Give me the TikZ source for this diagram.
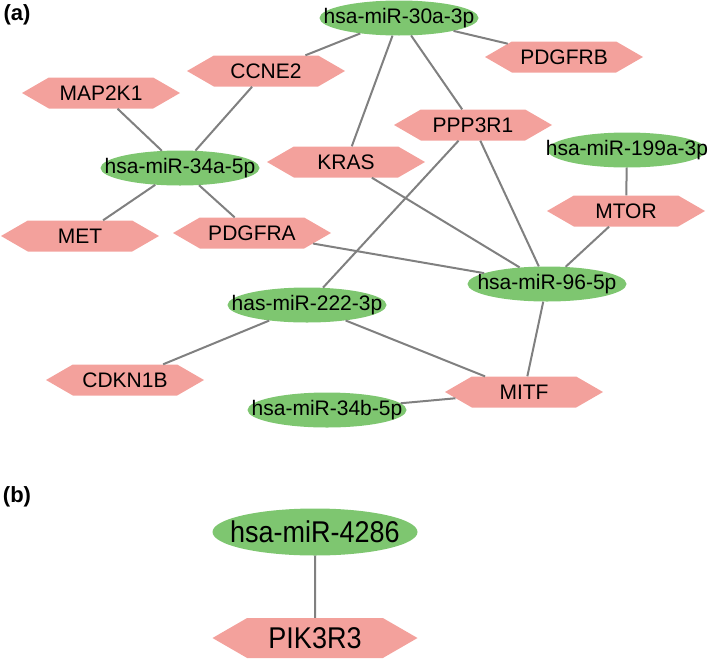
\documentclass[tikz,border=0pt]{standalone}
\usepackage{fontspec}
\setmainfont{Liberation Sans}
\usetikzlibrary{shapes.geometric,shapes.symbols}
\definecolor{mirgreen}{RGB}{126,198,112}
\definecolor{genepink}{RGB}{243,161,156}
\definecolor{edgegray}{RGB}{128,128,128}

\begin{document}
\begin{tikzpicture}[x=1pt,y=-1pt,
  mir/.style={ellipse,fill=mirgreen,inner sep=0pt,minimum width=159pt,minimum height=35pt,font=\fontsize{21}{24}\selectfont},
  gene/.style={signal,signal to=west and east,signal pointer angle=60,fill=genepink,inner sep=0pt,minimum width=158pt,minimum height=31pt,font=\fontsize{21}{24}\selectfont},
  big/.style={font=\fontsize{30}{34}\selectfont,minimum width=205pt},
  panel/.style={font=\bfseries\fontsize{22}{26}\selectfont},
  link/.style={draw=edgegray,line width=2pt}]
\useasboundingbox (0,0) rectangle (709,659);
\node[panel] (lbla) at (17,15) {(a)};
\node[panel] (lblb) at (17,497) {(b)};
\node[mir] (m30a) at (399,18) {\makebox[0pt]{hsa-miR-30a-3p}};
\node[mir] (m34a) at (180,168) {\makebox[0pt]{hsa-miR-34a-5p}};
\node[mir] (m199) at (627,150) {\makebox[0pt]{hsa-miR-199a-3p}};
\node[mir] (m96) at (547,284) {\makebox[0pt]{hsa-miR-96-5p}};
\node[mir] (m222) at (307,305) {\makebox[0pt]{has-miR-222-3p}};
\node[mir] (m34b) at (327,410) {\makebox[0pt]{hsa-miR-34b-5p}};
\node[gene] (pdgfrb) at (564,57) {PDGFRB};
\node[gene] (ccne2) at (266,71) {CCNE2};
\node[gene] (map2k1) at (101,93) {MAP2K1};
\node[gene] (ppp3r1) at (473,125) {PPP3R1};
\node[gene] (kras) at (346,162) {KRAS};
\node[gene] (mtor) at (626,211) {MTOR};
\node[gene] (met) at (80,236) {MET};
\node[gene] (pdgfra) at (252,233) {PDGFRA};
\node[gene] (cdkn1b) at (125,380) {CDKN1B};
\node[gene] (mitf) at (524,392) {MITF};
\node[mir,big,minimum height=47pt] (m4286) at (315,532) {\makebox[0pt]{\scalebox{0.9}[1]{hsa-miR-4286}}};
\node[gene,big,minimum height=40pt] (pik3r3) at (315,638) {\scalebox{0.9}[1]{PIK3R3}};
\foreach \a/\b in {m30a/pdgfrb,m30a/ccne2,m30a/kras,m30a/ppp3r1,m34a/map2k1,m34a/ccne2,m34a/met,m34a/pdgfra,pdgfra/m96,kras/m96,ppp3r1/m96,ppp3r1/m222,m199/mtor,mtor/m96,m96/mitf,m222/cdkn1b,m222/mitf,m34b/mitf,m4286/pik3r3}
{
  \draw[link] (\a) -- (\b);
}
\end{tikzpicture}
\end{document}
